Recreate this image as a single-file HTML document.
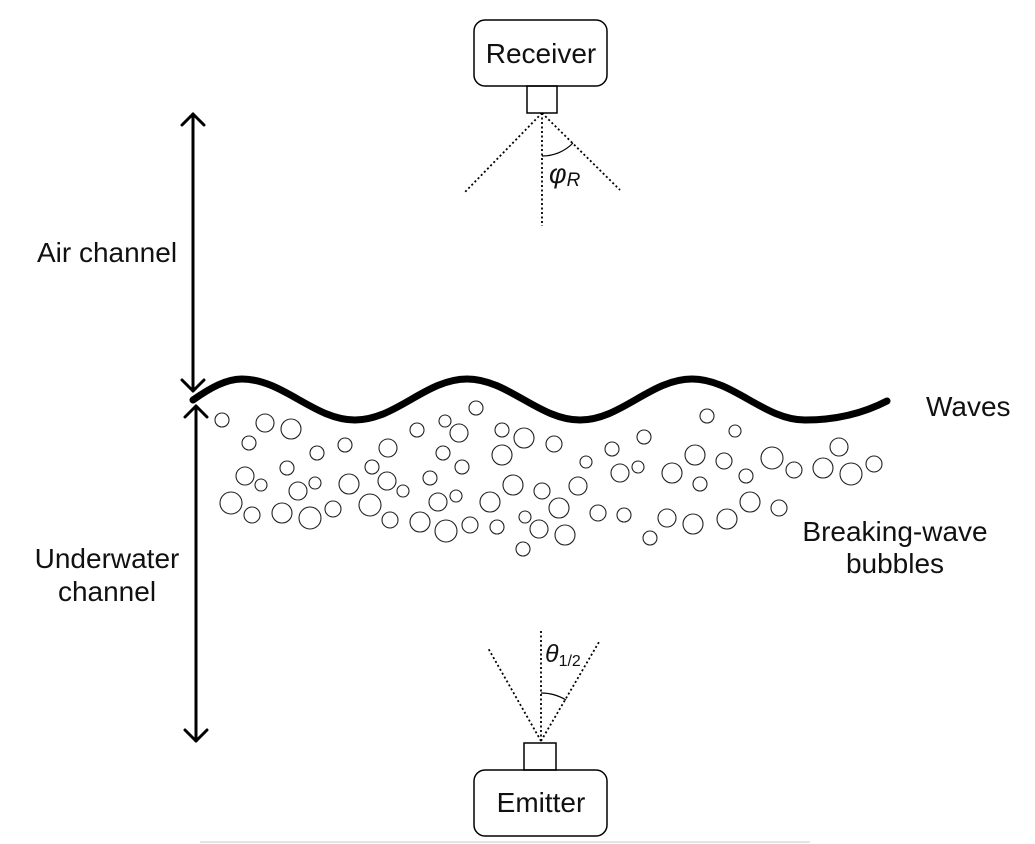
<!DOCTYPE html>
<html><head><meta charset="utf-8"><style>
html,body{margin:0;padding:0;background:#fff;}
svg{display:block;}
text{font-family:"Liberation Sans",sans-serif;fill:#111;}
</style></head><body>
<svg width="1035" height="844" viewBox="0 0 1035 844" xmlns="http://www.w3.org/2000/svg">
<g fill="none" stroke="#000">
<g stroke-width="3" stroke-linecap="round" stroke-linejoin="round">
<line x1="193" y1="114" x2="193" y2="391"/>
<polyline points="182,125 193,114 204,125"/>
<polyline points="182,380 193,391 204,380"/>
<line x1="196" y1="406" x2="196" y2="741"/>
<polyline points="185,417 196,406 207,417"/>
<polyline points="185,730 196,741 207,730"/>
</g>
<path stroke-width="7" stroke-linecap="round" d="M193,400 C210,388 226,379 242,379 C283,379 314,420 355,420 C396,420 426,379 467,379 C508,379 539,420 580,420 C621,420 651,379 692,379 C733,379 764,420 805,420 C835,420 862,414 887,401"/>
<g stroke-width="1.5">
<rect x="474" y="20" width="133" height="66" rx="11"/>
<rect x="527" y="86" width="30" height="27"/>
<rect x="474" y="770" width="133" height="66" rx="11"/>
<rect x="524" y="743" width="32" height="27"/>
</g>
<g stroke-width="1.8" stroke-dasharray="2,2.5">
<line x1="542" y1="113" x2="465" y2="192"/>
<line x1="542" y1="113" x2="620" y2="190"/>
<line x1="542" y1="113" x2="542" y2="226"/>
<line x1="541" y1="741" x2="488" y2="648"/>
<line x1="541" y1="741" x2="599" y2="642"/>
<line x1="541" y1="741" x2="541" y2="630"/>
</g>
<path stroke-width="1.2" d="M542,156 A43,43 0 0 0 573,143"/>
<path stroke-width="1.2" d="M541,693 A48,48 0 0 1 566,700"/>
<g stroke-width="1.1" stroke="#222">
<circle cx="222" cy="420" r="7"/><circle cx="265" cy="423" r="9"/><circle cx="291" cy="429" r="10"/>
<circle cx="249" cy="443" r="7"/><circle cx="317" cy="453" r="7"/><circle cx="345" cy="445" r="7"/>
<circle cx="388" cy="448" r="9"/><circle cx="417" cy="430" r="7"/><circle cx="445" cy="421" r="6"/>
<circle cx="459" cy="433" r="9"/><circle cx="476" cy="408" r="7"/><circle cx="502" cy="430" r="7"/>
<circle cx="524" cy="438" r="10"/><circle cx="443" cy="453" r="7"/><circle cx="502" cy="455" r="10"/>
<circle cx="462" cy="467" r="7"/><circle cx="287" cy="468" r="7"/><circle cx="245" cy="476" r="9"/>
<circle cx="261" cy="485" r="6"/><circle cx="298" cy="491" r="9"/><circle cx="315" cy="483" r="6"/>
<circle cx="349" cy="484" r="10"/><circle cx="372" cy="467" r="7"/><circle cx="387" cy="481" r="9"/>
<circle cx="403" cy="491" r="6"/><circle cx="430" cy="478" r="7"/><circle cx="438" cy="502" r="9"/>
<circle cx="456" cy="496" r="6"/><circle cx="490" cy="502" r="10"/><circle cx="513" cy="485" r="10"/>
<circle cx="542" cy="491" r="8"/><circle cx="231" cy="503" r="11"/><circle cx="252" cy="515" r="8"/>
<circle cx="282" cy="513" r="10"/><circle cx="310" cy="518" r="11"/><circle cx="333" cy="509" r="8"/>
<circle cx="370" cy="505" r="11"/><circle cx="390" cy="520" r="8"/><circle cx="420" cy="522" r="10"/>
<circle cx="446" cy="531" r="11"/><circle cx="470" cy="525" r="8"/><circle cx="497" cy="527" r="7"/>
<circle cx="525" cy="517" r="6"/><circle cx="539" cy="529" r="9"/><circle cx="523" cy="549" r="7"/>
<circle cx="554" cy="444" r="8"/><circle cx="559" cy="508" r="10"/><circle cx="578" cy="486" r="9"/>
<circle cx="565" cy="535" r="10"/><circle cx="586" cy="462" r="6"/><circle cx="612" cy="449" r="7"/>
<circle cx="644" cy="437" r="7"/><circle cx="620" cy="473" r="9"/><circle cx="638" cy="467" r="6"/>
<circle cx="598" cy="513" r="8"/><circle cx="624" cy="515" r="7"/><circle cx="672" cy="473" r="10"/>
<circle cx="695" cy="455" r="10"/><circle cx="707" cy="416" r="7"/><circle cx="735" cy="431" r="6"/>
<circle cx="724" cy="461" r="8"/><circle cx="700" cy="484" r="7"/><circle cx="667" cy="518" r="9"/>
<circle cx="693" cy="524" r="10"/><circle cx="650" cy="538" r="7"/><circle cx="727" cy="519" r="10"/>
<circle cx="750" cy="502" r="10"/><circle cx="746" cy="476" r="7"/><circle cx="779" cy="508" r="8"/>
<circle cx="772" cy="458" r="11"/><circle cx="794" cy="470" r="8"/><circle cx="823" cy="468" r="10"/>
<circle cx="839" cy="447" r="9"/><circle cx="851" cy="474" r="11"/><circle cx="874" cy="464" r="8"/>
</g>
<line x1="200" y1="842" x2="810" y2="842" stroke="#e4e4e4" stroke-width="2"/>
</g>
<g font-size="28">
<text x="541" y="63" text-anchor="middle">Receiver</text>
<text x="541" y="812" text-anchor="middle">Emitter</text>
<text x="107" y="262" text-anchor="middle">Air channel</text>
<text x="107" y="568" text-anchor="middle">Underwater</text>
<text x="107" y="601" text-anchor="middle">channel</text>
<text x="926" y="416">Waves</text>
<text x="895" y="541" text-anchor="middle">Breaking-wave</text>
<text x="895" y="573" text-anchor="middle">bubbles</text>
</g>
<text x="549" y="183" font-family="Liberation Serif,serif" font-style="italic" font-size="27">φ<tspan font-size="19" dy="3">R</tspan></text>
<text x="545" y="662" font-family="Liberation Serif,serif" font-style="italic" font-size="25">θ<tspan font-size="16" font-style="normal" dy="4">1/2</tspan></text>
</svg>
</body></html>
